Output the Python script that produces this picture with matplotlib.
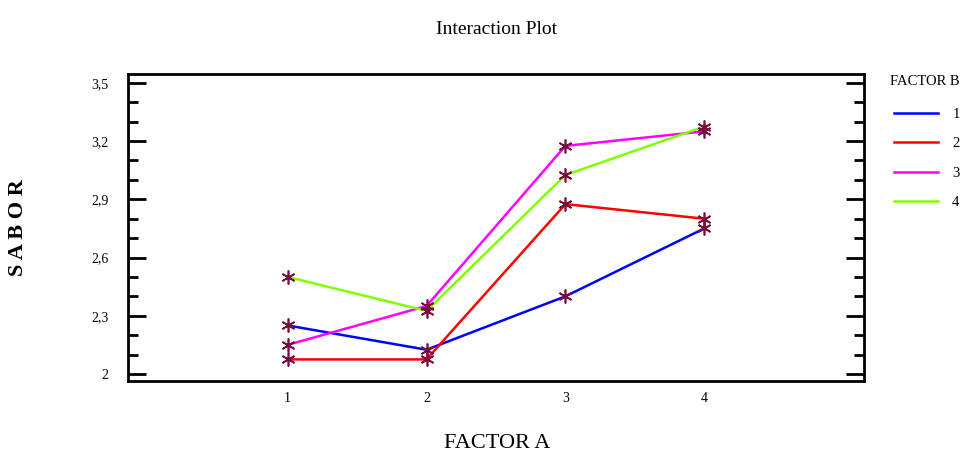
import numpy as np
import matplotlib.pyplot as plt
import matplotlib as mpl

mpl.rc('font', family='Liberation Serif')

factor_a = [1, 2, 3, 4]
levels_b = ['1', '2', '3', '4']
sabor_b1 = [2.25, 2.125, 2.40, 2.75]
sabor_b2 = [2.075, 2.075, 2.875, 2.80]
sabor_b3 = [2.15, 2.35, 3.175, 3.25]
sabor_b4 = [2.50, 2.325, 3.025, 3.275]
colors = ['#0000ff', '#ff0000', '#ff00ff', '#80ff00']

fig = plt.figure(figsize=(9.65, 4.59), dpi=100)
ax = fig.add_axes([0.1326, 0.170, 0.7627, 0.669])

series = [sabor_b1, sabor_b2, sabor_b3, sabor_b4]
for vals, lab, col in zip(series, levels_b, colors):
    ax.plot(factor_a, vals, color=col, lw=1.8, label=lab, zorder=2)
for vals in series:
    ax.plot(factor_a, vals, linestyle='none', marker=(6, 2, 0), markersize=10,
            markeredgewidth=1.2, color='#7a0a3c', zorder=3)

ax.set_xlim(-0.15, 5.15)
ax.set_ylim(1.964, 3.546)
ax.set_xticks(factor_a)
ax.set_xticklabels(['1', '2', '3', '4'])
yt = [2.0, 2.3, 2.6, 2.9, 3.2, 3.5]
ax.set_yticks(yt)
ax.set_yticklabels(['2', '2,3', '2,6', '2,9', '3,2', '3,5'])
ax.set_yticks(np.arange(2.0, 3.51, 0.1), minor=True)
ax.tick_params(axis='y', which='major', direction='in', length=13, width=2,
               left=True, right=True, labelsize=10, pad=14)
ax.tick_params(axis='y', which='minor', direction='in', length=7, width=2,
               left=True, right=True)
ax.tick_params(axis='x', which='major', length=0, labelsize=10, pad=8)
for s in ax.spines.values():
    s.set_linewidth(2)

fig.text(497/965, 1 - 29/459, 'Interaction Plot', fontsize=14,
         ha='center', va='center')
fig.text(497/965, 1 - 444/459, 'FACTOR A', fontsize=16,
         ha='center', va='center')
fig.text(0.019, 1 - 228/459, 'S A B O R', rotation=90, fontsize=16,
         fontweight='bold', ha='center', va='center')

leg = fig.legend(loc='upper left', bbox_to_anchor=(890/965, 1 - 75/459),
                 frameon=False, title='FACTOR B', fontsize=10.5,
                 title_fontsize=10.5, handlelength=3.0, labelspacing=1.12,
                 handletextpad=1.0, borderpad=0, borderaxespad=0)
leg._legend_box.align = 'right'
leg._legend_box.sep = 14

fig.savefig('out.png', dpi=100)
